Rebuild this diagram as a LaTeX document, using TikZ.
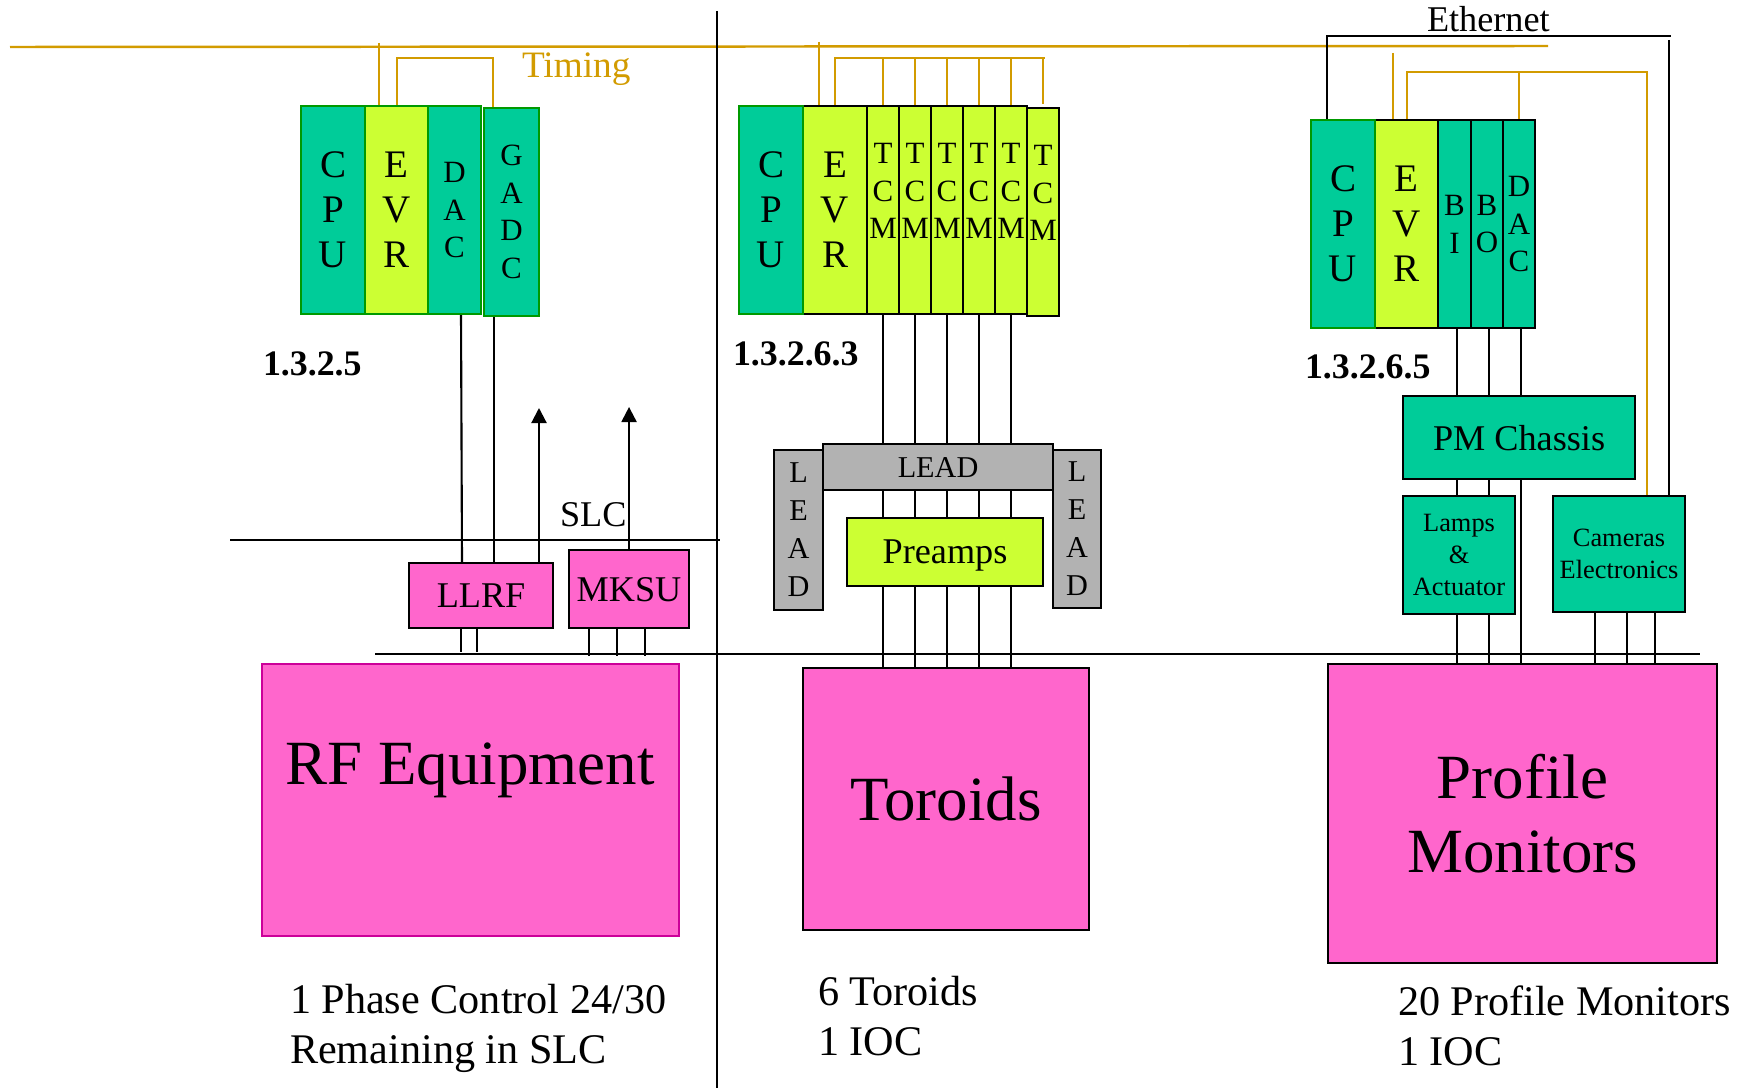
\documentclass[tikz,border=0pt]{standalone}
\usepackage{fontspec}
\setmainfont{Liberation Serif}
\usetikzlibrary{arrows.meta,backgrounds}

\definecolor{slotgreen}{RGB}{0,204,153}
\definecolor{slotlime}{RGB}{204,255,51}
\definecolor{edgegreen}{RGB}{0,153,0}
\definecolor{boxpink}{RGB}{255,102,204}
\definecolor{edgepink}{RGB}{204,0,153}
\definecolor{leadgray}{RGB}{178,178,178}
\definecolor{timingcol}{RGB}{210,155,0}

\newcommand{\bigtxt}{\fontsize{17.9}{21.3}\selectfont}
\newcommand{\midtxt}{\fontsize{10.3}{12}\selectfont}
\newcommand{\notetxt}{\fontsize{12}{14.2}\selectfont}
\newcommand{\cputxt}{\fontsize{11.1}{12.8}\selectfont}
\newcommand{\cardtxt}{\fontsize{8.8}{10.7}\selectfont}
\newcommand{\leadtxt}{\fontsize{8.6}{10.8}\selectfont}
\newcommand{\smalltxt}{\fontsize{7.5}{9.1}\selectfont}
\newcommand{\labtxt}{\fontsize{10.2}{12}\selectfont}
\newcommand{\timtxt}{\fontsize{10.6}{12}\selectfont}

\begin{document}
\begin{tikzpicture}[x=0.01cm,y=-0.01cm,>={Triangle[length=0.15cm,width=0.15cm]},
  slot/.style={draw,line width=0.7pt,inner sep=0pt,outer sep=0pt,anchor=north west,minimum height=2.08cm,align=center},
  box/.style={draw,line width=0.7pt,inner sep=0pt,outer sep=0pt,anchor=north west},
  oneline/.style={box,text depth=0pt},
  txt/.style={inner sep=0pt,outer sep=0pt},
  wire/.style={line width=0.6pt},
  tline/.style={draw=timingcol,line width=0.7pt}]
\useasboundingbox (0,0) rectangle (1740,1088);

% 1.3.2.5
\node[slot,fill=slotlime,draw=edgegreen,minimum width=0.63cm,font=\cputxt] (evrA) at (365,106) {E\\V\\R};
\node[slot,fill=slotgreen,draw=edgegreen,minimum width=0.64cm,font=\cputxt] (cpuA) at (301,106) {C\\P\\U};
\node[slot,fill=slotgreen,draw=edgegreen,minimum width=0.53cm,font=\cardtxt] (dacA) at (428,106) {D\\A\\C};
\node[slot,fill=slotgreen,draw=edgegreen,minimum width=0.55cm,font=\cardtxt] (gadcA) at (484,108) {G\\A\\D\\C};
\node[txt,anchor=base west,font=\labtxt\bfseries] (crateA) at (263,375) {1.3.2.5};

% 1.3.2.6.3
\node[slot,fill=slotlime,minimum width=0.64cm,font=\cputxt] (evrB) at (803,106) {E\\V\\R};
\node[slot,fill=slotgreen,draw=edgegreen,minimum width=0.64cm,font=\cputxt] (cpuB) at (739,106) {C\\P\\U};
\foreach \i in {1,...,5}
  \node[slot,fill=slotlime,minimum width=0.32cm] (tcm\i) at ({867+32*(\i-1)},106) {};
\node[slot,fill=slotlime,minimum width=0.32cm] (tcm6) at (1027,108) {};
\foreach \i in {1,...,6}
  \node[txt,align=center,font=\cardtxt] (tcmtxt\i) at ([yshift=0.19cm]tcm\i.center) {T\\C\\M};
\node[txt,anchor=base west,font=\labtxt\bfseries] (crateB) at (733,365) {1.3.2.6.3};

% 1.3.2.6.5
\node[slot,fill=slotlime,minimum width=0.63cm,font=\cputxt] (evrC) at (1375,120) {E\\V\\R};
\node[slot,fill=slotgreen,draw=edgegreen,minimum width=0.64cm,font=\cputxt] (cpuC) at (1311,120) {C\\P\\U};
\node[slot,fill=slotgreen,minimum width=0.33cm,font=\cardtxt] (biC) at (1438,120) {B\\I};
\node[slot,fill=slotgreen,minimum width=0.32cm,font=\cardtxt] (boC) at (1471,120) {B\\O};
\node[slot,fill=slotgreen,minimum width=0.32cm,font=\cardtxt] (dacC) at (1503,120) {D\\A\\C};
\node[txt,anchor=base west,font=\labtxt\bfseries] (crateC) at (1305,378) {1.3.2.6.5};

% RF side
\node[oneline,fill=boxpink,minimum width=1.44cm,minimum height=0.65cm,font=\midtxt] (llrf) at (409,563) {LLRF};
\node[oneline,fill=boxpink,minimum width=1.20cm,minimum height=0.78cm,font=\midtxt] (mksu) at (569,550) {MKSU};
\node[box,fill=boxpink,draw=edgepink,minimum width=4.17cm,minimum height=2.72cm] (rf) at (262,664) {};
\node[txt,anchor=base,font=\bigtxt] (rftxt) at (470,784) {RF Equipment};
\node[txt,anchor=base west,font=\midtxt] (slc) at (560,526) {SLC};

% toroid side
\node[box,align=center,fill=leadgray,minimum width=0.49cm,minimum height=1.60cm,font=\leadtxt] (leadL) at (774,450) {L\\E\\A\\D};
\node[box,align=center,fill=leadgray,minimum width=0.48cm,minimum height=1.58cm,font=\leadtxt] (leadR) at (1053,450) {L\\E\\A\\D};
\node[oneline,fill=leadgray,minimum width=2.30cm,minimum height=0.46cm,font=\leadtxt] (leadT) at (823,444) {LEAD};
\node[oneline,fill=slotlime,minimum width=1.96cm,minimum height=0.68cm,font=\midtxt] (preamps) at (847,518) {Preamps};
\node[oneline,fill=boxpink,minimum width=2.86cm,minimum height=2.62cm,font=\bigtxt] (toroids) at (803,668) {Toroids};

% profile side
\node[oneline,fill=slotgreen,minimum width=2.32cm,minimum height=0.83cm,font=\midtxt] (pmc) at (1403,396) {PM Chassis};
\node[box,align=center,fill=slotgreen,minimum width=1.12cm,minimum height=1.18cm,font=\smalltxt] (lamps) at (1403,496) {Lamps\\\&\\Actuator};
\node[box,align=center,fill=slotgreen,minimum width=1.32cm,minimum height=1.16cm,font=\smalltxt] (cams) at (1553,496) {Cameras\\Electronics};
\node[box,align=center,fill=boxpink,minimum width=3.89cm,minimum height=2.99cm,font=\bigtxt] (pm) at (1328,664) {Profile\\Monitors};

% labels
\node[txt,anchor=base west,font=\timtxt,text=timingcol] (timing) at (522,78) {Timing};
\node[txt,anchor=base west,font=\midtxt] (ether) at (1427,32) {Ethernet};
\node[txt,anchor=north west,align=left,font=\notetxt] (noteA) at (290,984) {1 Phase Control 24/30\\Remaining in SLC};
\node[txt,anchor=north west,align=left,font=\notetxt] (noteB) at (818,976) {6 Toroids\\1 IOC};
\node[txt,anchor=north west,align=left,font=\notetxt] (noteC) at (1398,986) {20 Profile Monitors\\1 IOC};

\begin{scope}[on background layer]
\draw[tline] (10,47) -- (1548,46);
\draw[tline] (379,43) -- (379,0 |- evrA.north);
\draw[tline] (397,0 |- evrA.north) -- (397,58) -- (493,58) -- (493,0 |- gadcA.north);
\draw[tline] (819,42) -- (819,0 |- evrB.north);
\draw[tline] (835,0 |- evrB.north) -- (835,58) -- (1045,58);
\foreach \i in {1,...,5}
  \draw[tline] (tcm\i.north |- 0,58) -- (tcm\i.north);
\draw[tline] (tcm6.north |- 0,58) -- ([yshift=0.04cm]tcm6.north);
\draw[tline] (1393,53) -- (1393,0 |- evrC.north);
\draw[tline] (1407,0 |- evrC.north) -- (1407,72) -- (1647,72) -- (1647,0 |- cams.north);
\draw[tline] (dacC.north |- 0,72) -- (dacC.north);

\draw[wire] (1327,0 |- cpuC.north) -- (1327,36) -- (1671,36);
\draw[wire] (1669,40) -- (1669,0 |- cams.north);

\draw[wire] (717,11) -- (717,1088);
\draw[wire] (230,540) -- (720,540);
\draw[wire] (375,654) -- (1700,654);

\draw[wire] (461,0 |- dacA.south) -- (462,0 |- llrf.north);
\draw[wire] (494,0 |- gadcA.south) -- (494,0 |- llrf.north);
\draw[wire,->] (539,0 |- llrf.north) -- (539,408);
\draw[wire,->] (mksu.north) -- (mksu.north |- 0,407);
\foreach \x in {461,477}
  \draw[wire] (\x,0 |- llrf.south) -- (\x,652);
\foreach \x in {589,617,645}
  \draw[wire] (\x,0 |- mksu.south) -- (\x,656);

\foreach \i in {1,...,5}
  \draw[wire] (tcm\i.south) -- (tcm\i.south |- toroids.north);

\foreach \x in {1457,1489,1521}
  \draw[wire] (\x,0 |- dacC.south) -- (\x,0 |- pm.north);
\foreach \x in {1595,1627,1655}
  \draw[wire] (\x,0 |- cams.south) -- (\x,0 |- pm.north);
\end{scope}
\end{tikzpicture}
\end{document}
